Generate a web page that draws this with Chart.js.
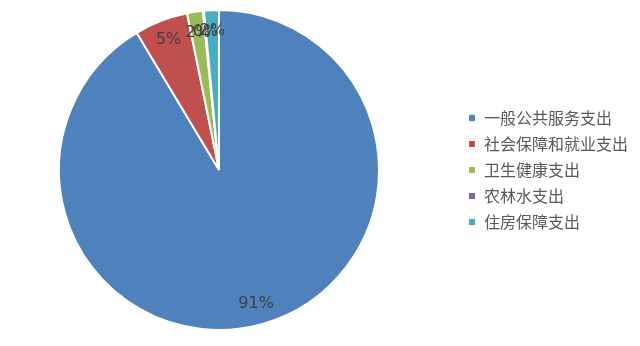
<!DOCTYPE html>
<html>
<head>
<meta charset="utf-8">
<script src="https://cdn.jsdelivr.net/npm/chart.js@4"></script>
<style>
  html, body { margin: 0; padding: 0; background: #fff; overflow: hidden; }
  #wrap { width: 660px; height: 346px; margin-left: -20px; }
</style>
</head>
<body>
<div id="wrap"><canvas id="pieChart"></canvas></div>
<script>
const categories = ['一般公共服务支出', '社会保障和就业支出', '卫生健康支出', '农林水支出', '住房保障支出'];
const shares = [91.4, 5.4, 1.6, 0.1, 1.5];
const colors = ['#4F81BD', '#C0504D', '#9BBB59', '#8064A2', '#4BACC6'];

// percent labels drawn inside each slice
const pctLabels = {
    id: 'pctLabels',
    afterDatasetsDraw(chart) {
        const ctx = chart.ctx;
        const total = shares.reduce((a, b) => a + b, 0);
        ctx.save();
        ctx.font = '16px "DejaVu Sans"';
        ctx.fillStyle = '#404040';
        ctx.textAlign = 'center';
        ctx.textBaseline = 'middle';
        chart.getDatasetMeta(0).data.forEach((arc, i) => {
            const mid = (arc.startAngle + arc.endAngle) / 2;
            const r = arc.outerRadius * 0.87;
            const x = arc.x + Math.cos(mid) * r;
            const y = arc.y + Math.sin(mid) * r;
            ctx.fillText(Math.round(shares[i] / total * 100) + '%', x, y);
        });
        ctx.restore();
    }
};

new Chart(document.getElementById('pieChart'), {
    type: 'pie',
    data: {
        labels: categories,
        datasets: [{
            data: shares,
            backgroundColor: colors,
            borderColor: '#ffffff',
            borderWidth: 2
        }]
    },
    options: {
        responsive: true,
        maintainAspectRatio: false,
        animation: false,
        layout: { padding: { top: 9, bottom: 15, left: 0, right: 2 } },
        plugins: {
            tooltip: { enabled: false },
            legend: {
                position: 'right',
                labels: {
                    boxWidth: 8,
                    boxHeight: 8,
                    padding: 10,
                    color: '#595959',
                    font: { family: '"Noto Sans CJK SC"', size: 16 }
                }
            }
        }
    },
    plugins: [pctLabels]
});
</script>
</body>
</html>
